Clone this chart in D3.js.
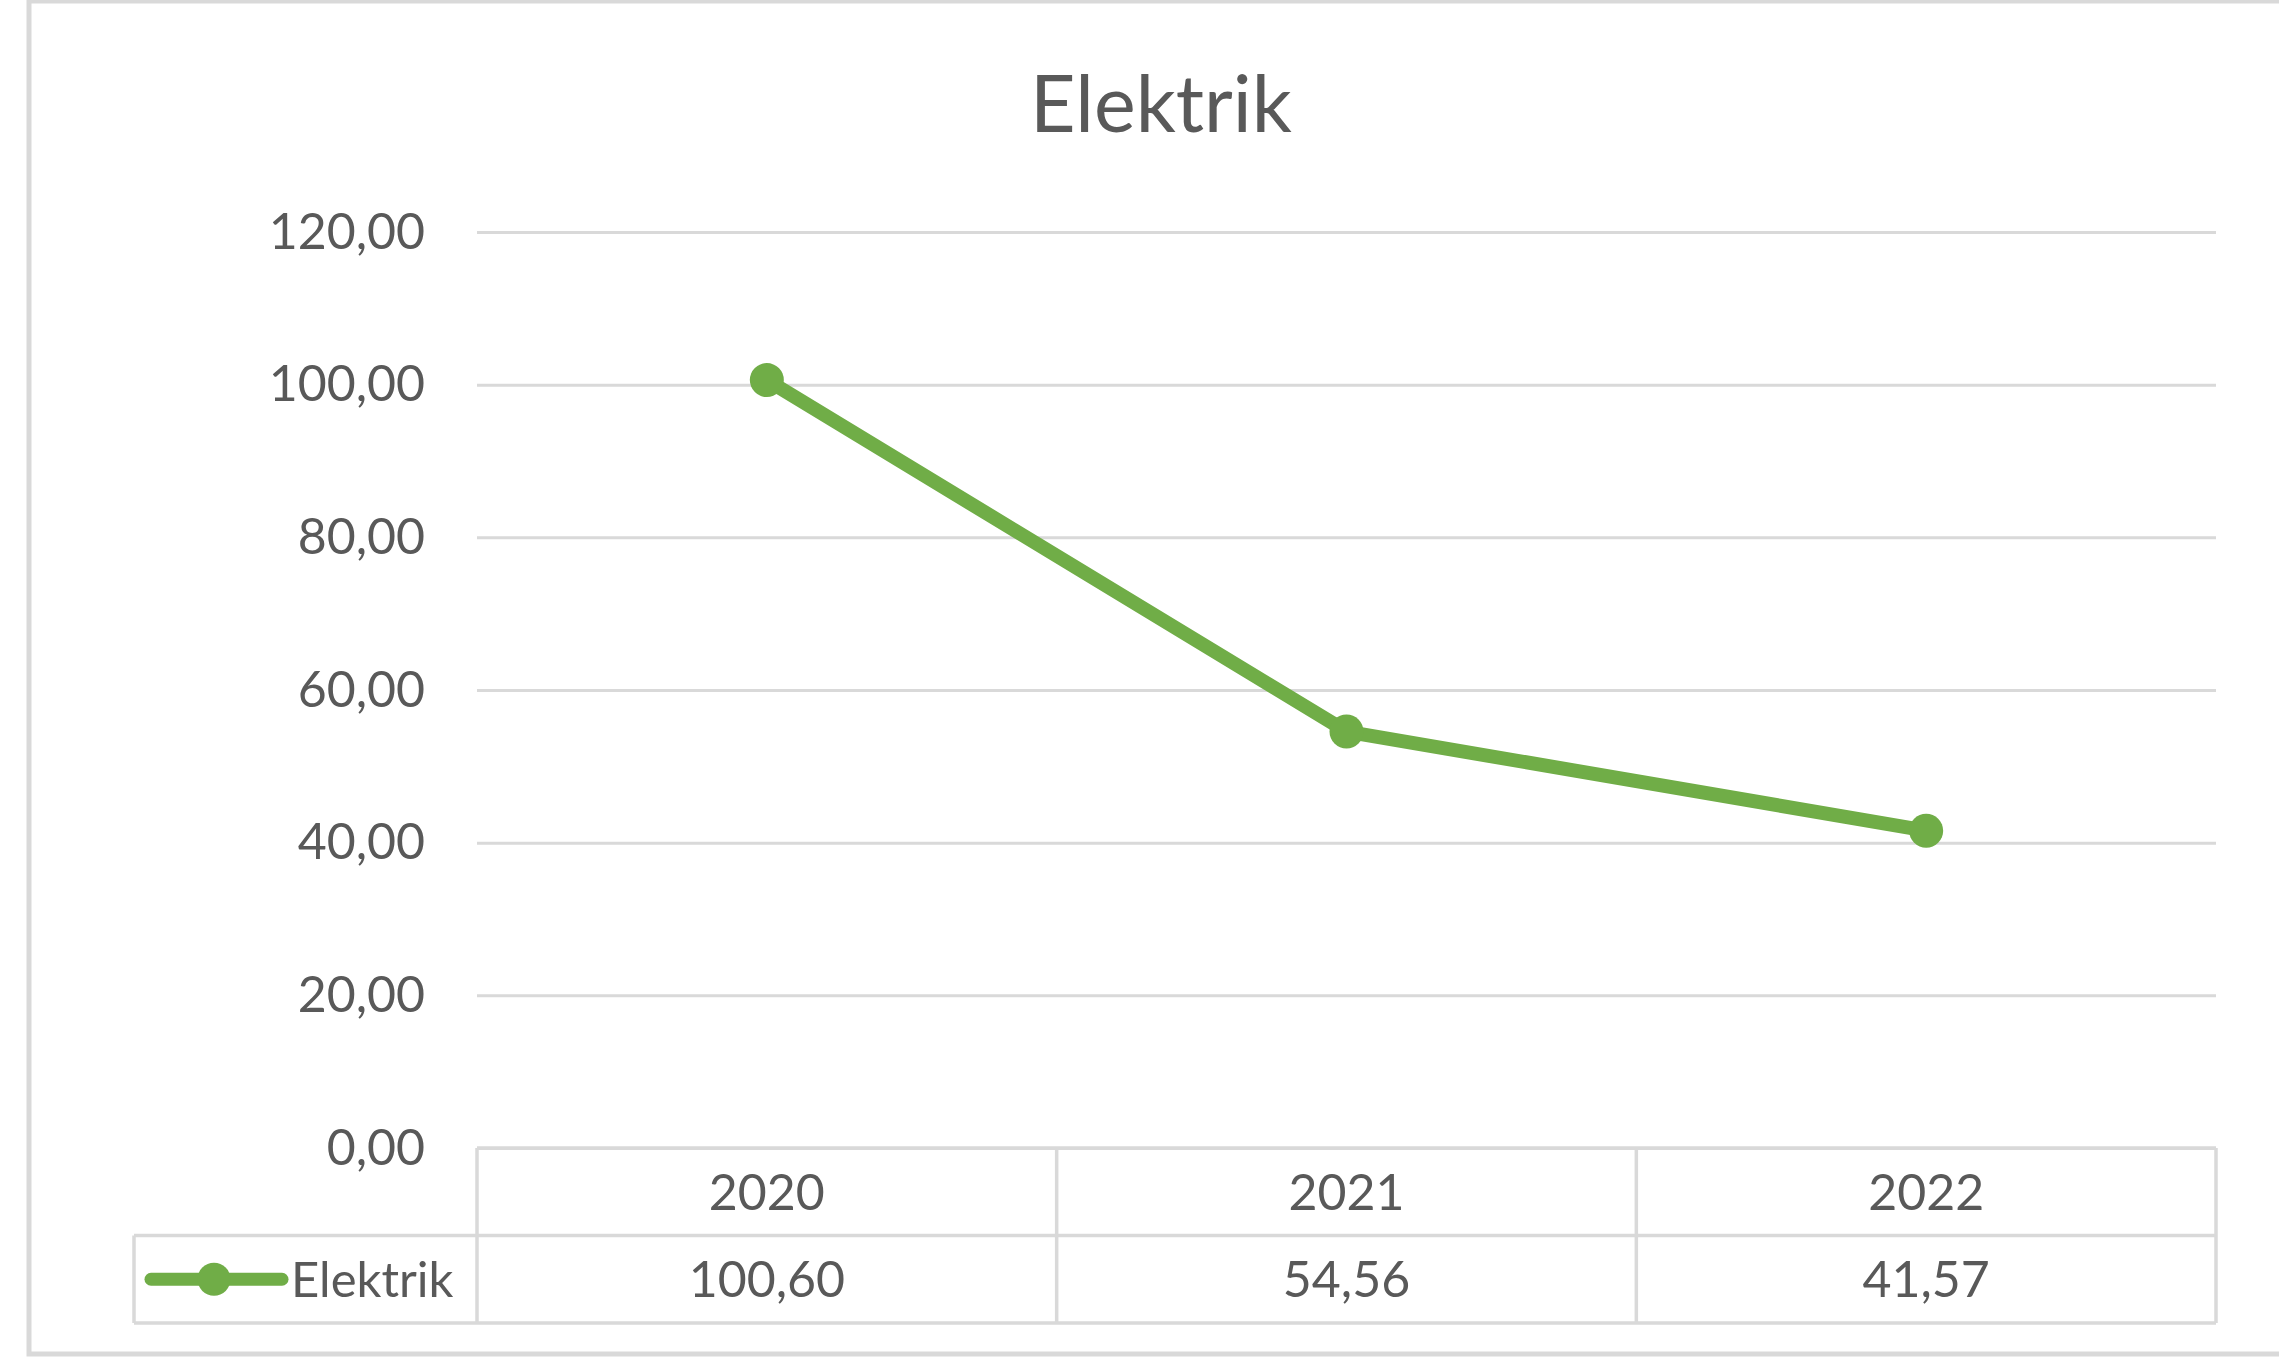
<!DOCTYPE html>
<html>
<head>
<meta charset="utf-8">
<script src="https://cdn.jsdelivr.net/npm/d3@7"></script>
<style>
  body { margin: 0; background: #fff; }
  text { font-family: Lato, "Noto Sans", sans-serif; fill: #595959; }
</style>
</head>
<body>
<div id="my_dataviz"></div>
<script>
// data
var categories = ["2020", "2021", "2022"];
var values = [100.6, 54.56, 41.57];
var yTicks = [0, 20, 40, 60, 80, 100, 120];
var seriesName = "Elektrik";
var title = "Elektrik";

var green = "#70ad47",
  gridColor = "#d9d9d9";

// dimensions of the page and the plot area
var W = 2279,
  H = 1357;
var margin = { top: 232, right: 63, bottom: 209, left: 477 },
  width = W - margin.left - margin.right,
  height = H - margin.top - margin.bottom;

var svg = d3
  .select("#my_dataviz")
  .append("svg")
  .attr("width", W)
  .attr("height", H);

// chart area border
svg
  .append("rect")
  .attr("x", 29)
  .attr("y", 1)
  .attr("width", 2400)
  .attr("height", 1353)
  .attr("fill", "none")
  .attr("stroke", gridColor)
  .attr("stroke-width", 5);

// title
svg
  .append("text")
  .attr("x", 1161)
  .attr("y", 132)
  .attr("text-anchor", "middle")
  .style("font-size", "79px")
  .text(title);

var g = svg
  .append("g")
  .attr("transform", "translate(" + margin.left + "," + margin.top + ")");

var x = d3.scaleBand().domain(categories).range([0, width]);
var y = d3
  .scaleLinear()
  .domain([0, d3.max(yTicks)])
  .range([height, 0]);

var locale = d3.formatLocale({
  decimal: ",",
  thousands: ".",
  grouping: [3],
  currency: ["", ""],
});
var fmt = locale.format(".2f");

// gridlines
g.append("g")
  .attr("class", "grid")
  .call(d3.axisLeft(y).tickValues(yTicks).tickSize(-width).tickFormat(""))
  .call(function (s) {
    s.select(".domain").remove();
    s.selectAll("line").attr("stroke", gridColor).attr("stroke-width", 3);
  });

// y labels
g.append("g")
  .call(d3.axisLeft(y).tickValues(yTicks).tickSize(0).tickPadding(52).tickFormat(fmt))
  .call(function (s) {
    s.select(".domain").remove();
    s.selectAll("text")
      .style("font-size", "50px")
      .style("font-family", "Lato, 'Noto Sans', sans-serif")
      .attr("fill", "#595959");
  });

// data table under the plot
var rowH = 87.5;
var legendLeft = 134 - margin.left;
var table = g.append("g").attr("transform", "translate(0," + height + ")");

var hLines = [
  { x1: 0, y: 0 },
  { x1: legendLeft, y: rowH },
  { x1: legendLeft, y: rowH * 2 },
];
table
  .selectAll(".hline")
  .data(hLines)
  .enter()
  .append("line")
  .attr("x1", function (d) { return d.x1; })
  .attr("x2", width)
  .attr("y1", function (d) { return d.y; })
  .attr("y2", function (d) { return d.y; })
  .attr("stroke", gridColor)
  .attr("stroke-width", 3.5);

var bounds = categories.map(function (c) { return x(c); }).concat([width]);
table
  .selectAll(".vline")
  .data(bounds)
  .enter()
  .append("line")
  .attr("x1", function (d) { return d; })
  .attr("x2", function (d) { return d; })
  .attr("y1", 0)
  .attr("y2", rowH * 2)
  .attr("stroke", gridColor)
  .attr("stroke-width", 3.5);

table
  .append("line")
  .attr("x1", legendLeft)
  .attr("x2", legendLeft)
  .attr("y1", rowH)
  .attr("y2", rowH * 2)
  .attr("stroke", gridColor)
  .attr("stroke-width", 3.5);

table
  .selectAll(".cat")
  .data(categories)
  .enter()
  .append("text")
  .attr("x", function (d) { return x(d) + x.bandwidth() / 2; })
  .attr("y", rowH / 2)
  .attr("dy", "0.36em")
  .attr("text-anchor", "middle")
  .style("font-size", "50px")
  .text(function (d) { return d; });

table
  .selectAll(".val")
  .data(values)
  .enter()
  .append("text")
  .attr("x", function (d, i) { return x(categories[i]) + x.bandwidth() / 2; })
  .attr("y", rowH * 1.5)
  .attr("dy", "0.36em")
  .attr("text-anchor", "middle")
  .style("font-size", "50px")
  .text(function (d) { return fmt(d); });

// legend key in the table
var key = table.append("g").attr("transform", "translate(" + legendLeft + "," + rowH * 1.5 + ")");
key
  .append("line")
  .attr("x1", 17)
  .attr("x2", 148)
  .attr("y1", 0)
  .attr("y2", 0)
  .attr("stroke", green)
  .attr("stroke-width", 13)
  .attr("stroke-linecap", "round");
key
  .append("circle")
  .attr("cx", 80)
  .attr("cy", 0)
  .attr("r", 16.5)
  .attr("fill", green);
key
  .append("text")
  .attr("x", 157)
  .attr("y", 0)
  .attr("dy", "0.36em")
  .style("font-size", "49px")
  .text(seriesName);

// the line and markers
var pts = categories.map(function (c, i) { return { cat: c, v: values[i] }; });
var line = d3
  .line()
  .x(function (d) { return x(d.cat) + x.bandwidth() / 2; })
  .y(function (d) { return y(d.v); });

g.append("path")
  .datum(pts)
  .attr("d", line)
  .attr("fill", "none")
  .attr("stroke", green)
  .attr("stroke-width", 14)
  .attr("stroke-linejoin", "round");

g.selectAll(".dot")
  .data(pts)
  .enter()
  .append("circle")
  .attr("cx", function (d) { return x(d.cat) + x.bandwidth() / 2; })
  .attr("cy", function (d) { return y(d.v); })
  .attr("r", 17)
  .attr("fill", green);
</script>
</body>
</html>
